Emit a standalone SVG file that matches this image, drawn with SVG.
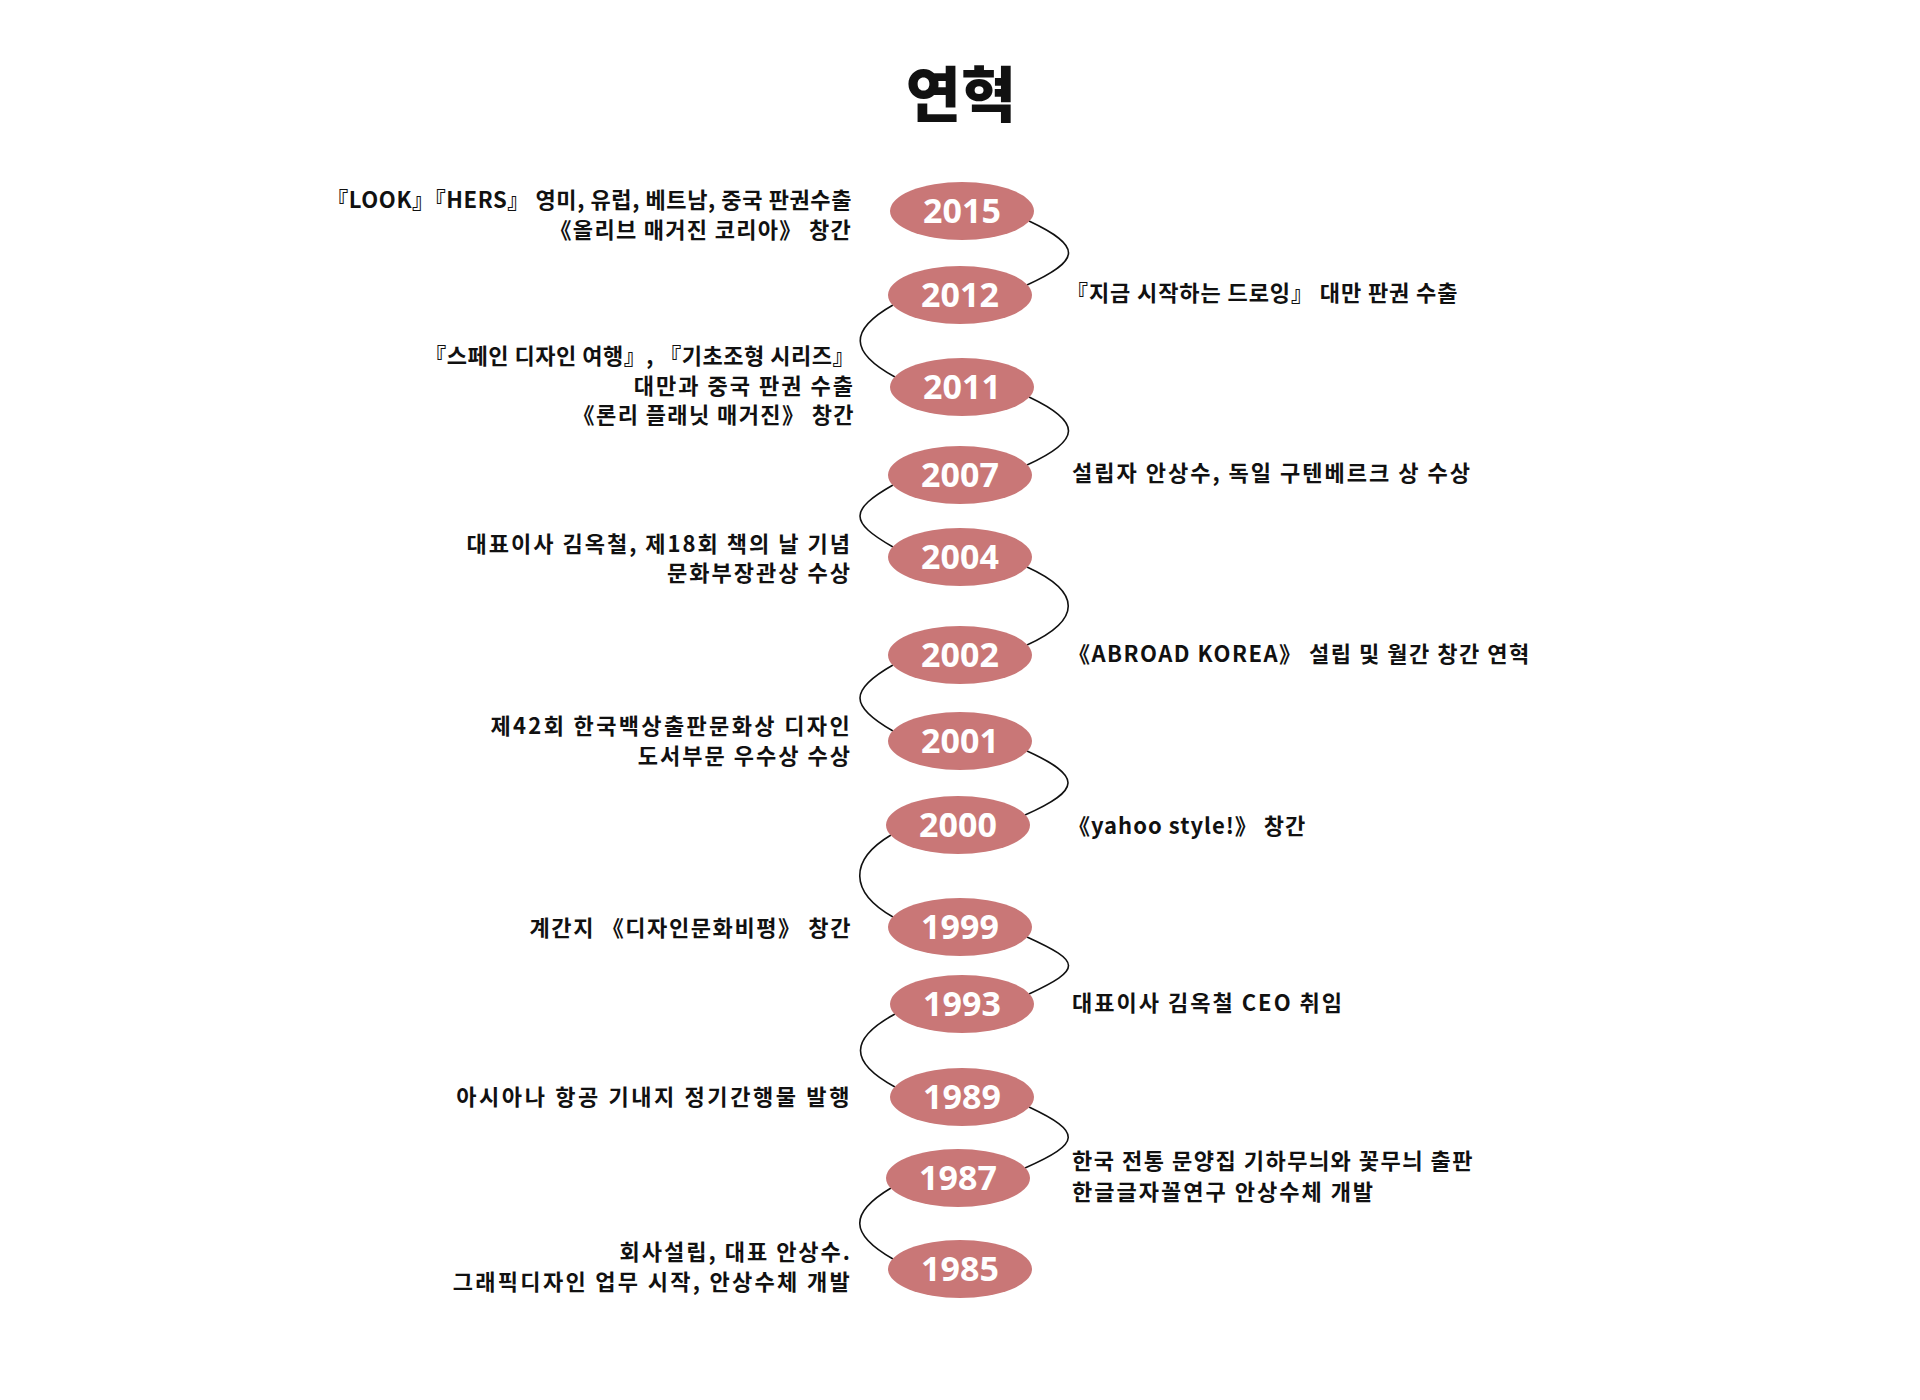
<svg xmlns="http://www.w3.org/2000/svg" width="1920" height="1400" viewBox="0 0 1920 1400">
<style>
.bg{fill:#ffffff}
.title{font-family:"Noto Sans CJK KR","Noto Sans",sans-serif;font-weight:900;font-size:60px;fill:#111;text-anchor:middle}
.yr ellipse{fill:#c97777}
.yr text{font-family:"Noto Sans","Lato",sans-serif;font-weight:700;font-size:34px;fill:#ffffff;text-anchor:middle}
.lbl{font-family:"Noto Sans CJK KR","Noto Sans",sans-serif;font-weight:700;font-size:22px;fill:#111;letter-spacing:2px}
.l{text-anchor:end}
.r{text-anchor:start}
#connectors path{fill:none;stroke:#111;stroke-width:1.6}
</style>
<rect class="bg" x="0" y="0" width="1920" height="1400"/>
<text class="title" x="961" y="117">연혁</text>

<g id="connectors">
<path d="M 1029 221 C 1082 246, 1082 260, 1027 285"/>
<path d="M 893 305 C 849 330, 849 352, 895 377"/>
<path d="M 1029 397 C 1082 422, 1082 440, 1027 465"/>
<path d="M 893 485 C 849 510, 849 522, 893 547"/>
<path d="M 1027 567 C 1082 592, 1082 620, 1027 645"/>
<path d="M 893 665 C 849 690, 849 706, 893 731"/>
<path d="M 1027 751 C 1082 776, 1082 790, 1025 815"/>
<path d="M 891 835 C 849 860, 849 892, 893 917"/>
<path d="M 1027 937 C 1082 962, 1082 969, 1029 994"/>
<path d="M 895 1014 C 849 1039, 849 1062, 895 1087"/>
<path d="M 1029 1107 C 1082 1132, 1082 1143, 1025 1168"/>
<path d="M 891 1188 C 849 1213, 849 1234, 893 1259"/>
</g>

<g id="y2015" class="yr"><ellipse cx="962" cy="211" rx="72" ry="29"/><text x="962" y="223">2015</text></g>
<g id="y2012" class="yr"><ellipse cx="960" cy="295" rx="72" ry="29"/><text x="960" y="307">2012</text></g>
<g id="y2011" class="yr"><ellipse cx="962" cy="387" rx="72" ry="29"/><text x="962" y="399">2011</text></g>
<g id="y2007" class="yr"><ellipse cx="960" cy="475" rx="72" ry="29"/><text x="960" y="487">2007</text></g>
<g id="y2004" class="yr"><ellipse cx="960" cy="557" rx="72" ry="29"/><text x="960" y="569">2004</text></g>
<g id="y2002" class="yr"><ellipse cx="960" cy="655" rx="72" ry="29"/><text x="960" y="667">2002</text></g>
<g id="y2001" class="yr"><ellipse cx="960" cy="741" rx="72" ry="29"/><text x="960" y="753">2001</text></g>
<g id="y2000" class="yr"><ellipse cx="958" cy="825" rx="72" ry="29"/><text x="958" y="837">2000</text></g>
<g id="y1999" class="yr"><ellipse cx="960" cy="927" rx="72" ry="29"/><text x="960" y="939">1999</text></g>
<g id="y1993" class="yr"><ellipse cx="962" cy="1004" rx="72" ry="29"/><text x="962" y="1016">1993</text></g>
<g id="y1989" class="yr"><ellipse cx="962" cy="1097" rx="72" ry="29"/><text x="962" y="1109">1989</text></g>
<g id="y1987" class="yr"><ellipse cx="958" cy="1178" rx="72" ry="29"/><text x="958" y="1190">1987</text></g>
<g id="y1985" class="yr"><ellipse cx="960" cy="1269" rx="72" ry="29"/><text x="960" y="1281">1985</text></g>

<g id="labels">
<text class="lbl l" x="852" y="208" style="letter-spacing:0.6px">『LOOK』『HERS』 영미, 유럽, 베트남, 중국 판권수출</text>
<text class="lbl l" x="852" y="238" style="letter-spacing:1.3px">《올리브 매거진 코리아》 창간</text>
<text class="lbl r" x="1066" y="301" style="letter-spacing:0.9px">『지금 시작하는 드로잉』 대만 판권 수출</text>
<text class="lbl l" x="855" y="364" style="letter-spacing:0.5px">『스페인 디자인 여행』, 『기초조형 시리즈』</text>
<text class="lbl l" x="855" y="394">대만과 중국 판권 수출</text>
<text class="lbl l" x="855" y="423" style="letter-spacing:1.4px">《론리 플래닛 매거진》 창간</text>
<text class="lbl r" x="1072" y="481">설립자 안상수, 독일 구텐베르크 상 수상</text>
<text class="lbl l" x="852" y="552">대표이사 김옥철, 제18회 책의 날 기념</text>
<text class="lbl l" x="852" y="581">문화부장관상 수상</text>
<text class="lbl r" x="1068" y="662" style="letter-spacing:1.5px">《ABROAD KOREA》 설립 및 월간 창간 연혁</text>
<text class="lbl l" x="852" y="734" style="letter-spacing:2.35px">제42회 한국백상출판문화상 디자인</text>
<text class="lbl l" x="852" y="764">도서부문 우수상 수상</text>
<text class="lbl r" x="1068" y="834" style="letter-spacing:1px">《yahoo style!》 창간</text>
<text class="lbl l" x="852" y="936" style="letter-spacing:1.6px">계간지 《디자인문화비평》 창간</text>
<text class="lbl r" x="1072" y="1011">대표이사 김옥철 CEO 취임</text>
<text class="lbl l" x="852" y="1105" style="letter-spacing:2.6px">아시아나 항공 기내지 정기간행물 발행</text>
<text class="lbl r" x="1072" y="1169" style="letter-spacing:1.5px">한국 전통 문양집 기하무늬와 꽃무늬 출판</text>
<text class="lbl r" x="1072" y="1200">한글글자꼴연구 안상수체 개발</text>
<text class="lbl l" x="852" y="1260">회사설립, 대표 안상수.</text>
<text class="lbl l" x="852" y="1290" style="letter-spacing:2.3px">그래픽디자인 업무 시작, 안상수체 개발</text>
</g>
</svg>
